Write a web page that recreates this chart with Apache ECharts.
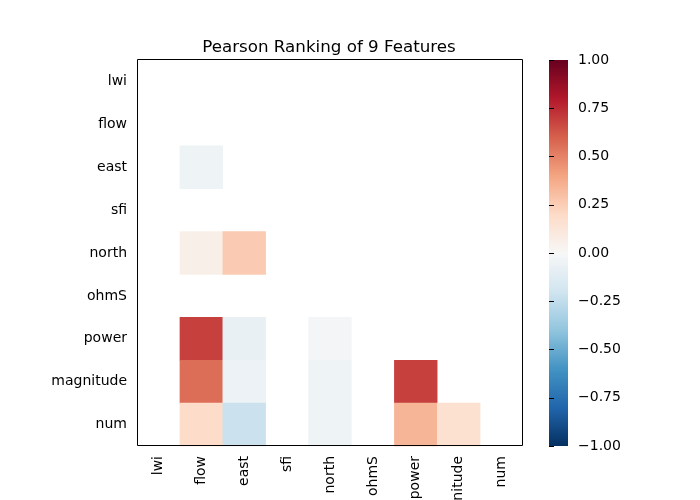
<!DOCTYPE html>
<html lang="en">
<head>
    <meta charset="UTF-8">
    <title>Pearson Ranking of 9 Features</title>
    <script type="text/javascript" src="https://cdn.jsdelivr.net/npm/echarts@6/dist/echarts.min.js"></script>
    <style>
        body { margin: 0; background: #fff; }
    </style>
</head>
<body>
    <div id="main" style="width: 700px;height:500px;"></div>
    <script type="text/javascript">
        const features = ['lwi', 'flow', 'east', 'sfi', 'north', 'ohmS', 'power', 'magnitude', 'num'];

        // lower triangle of the pearson matrix, null = masked / no variance
        const corr = [
            [null, null, null, null, null, null, null, null, null],
            [null, null, null, null, null, null, null, null, null],
            [null, -0.05, null, null, null, null, null, null, null],
            [null, null, null, null, null, null, null, null, null],
            [null, 0.06, 0.26, null, null, null, null, null, null],
            [null, null, null, null, null, null, null, null, null],
            [null, 0.69, -0.08, null, -0.02, null, null, null, null],
            [null, 0.56, -0.06, null, -0.05, null, 0.69, null, null],
            [null, 0.19, -0.22, null, -0.05, null, 0.34, 0.16, null]
        ];

        const colorbarTicks = [-1, -0.75, -0.5, -0.25, 0, 0.25, 0.5, 0.75, 1];

        // RdBu_r
        const rdbu = ['#053061', '#2166ac', '#4393c3', '#92c5de', '#d1e5f0', '#f7f7f7',
            '#fddbc7', '#f4a582', '#d6604d', '#b2182b', '#67001f'];

        const cells = [];
        corr.forEach(function (row, y) {
            row.forEach(function (v, x) {
                if (v !== null) cells.push([x, y, v]);
            });
        });

        // colorbar gradient, top = +1
        const stops = rdbu.slice().reverse().map(function (c, i) {
            return { offset: i / (rdbu.length - 1), color: c };
        });

        const font = 'DejaVu Sans';
        const myChart = echarts.init(document.getElementById('main'));
        const option = {
            animation: false,
            backgroundColor: '#fff',
            title: {
                text: 'Pearson Ranking of 9 Features',
                left: 324,
                textAlign: 'center',
                top: 34,
                textStyle: { fontFamily: font, fontSize: 16.7, fontWeight: 'normal', color: '#000' }
            },
            grid: [{
                left: 137, top: 60, width: 386, height: 386,
                outerBoundsMode: 'none',
                containLabel: false
            }, {
                left: 549, top: 60, width: 19, height: 386,
                outerBoundsMode: 'none',
                containLabel: false
            }],
            graphic: [{
                type: 'rect',
                shape: { x: 549, y: 60, width: 19, height: 386 },
                style: { fill: new echarts.graphic.LinearGradient(0, 0, 0, 1, stops) },
                silent: true
            }, {
                // axes frame (spines)
                type: 'rect',
                shape: { x: 137.5, y: 59.5, width: 385, height: 386 },
                style: { fill: null, stroke: '#000', lineWidth: 1 },
                silent: true,
                z: 100
            }],
            xAxis: [{
                type: 'category',
                data: features,
                gridIndex: 0,
                axisLine: { show: false },
                axisTick: { alignWithLabel: true, length: 5, lineStyle: { color: '#000' } },
                axisLabel: { rotate: 90, margin: 10, color: '#000', fontFamily: font, fontSize: 14, interval: 0 },
                splitLine: { show: false }
            }, {
                type: 'value', gridIndex: 1, show: false, min: 0, max: 1
            }],
            yAxis: [{
                type: 'category',
                data: features,
                inverse: true,
                gridIndex: 0,
                axisLine: { show: false },
                axisTick: { alignWithLabel: true, length: 5, lineStyle: { color: '#000' } },
                axisLabel: { margin: 10, color: '#000', fontFamily: font, fontSize: 14, interval: 0 },
                splitLine: { show: false }
            }, {
                type: 'value',
                gridIndex: 1,
                position: 'right',
                min: colorbarTicks[0],
                max: colorbarTicks[colorbarTicks.length - 1],
                interval: 0.25,
                axisLine: { show: false },
                axisTick: { show: true, length: 5, lineStyle: { color: '#000' } },
                splitLine: { show: false },
                axisLabel: {
                    margin: 10, color: '#000', fontFamily: font, fontSize: 14,
                    formatter: function (v) {
                        return (v < 0 ? '\u2212' : '') + Math.abs(v).toFixed(2);
                    }
                }
            }],
            visualMap: {
                type: 'continuous',
                show: false,
                seriesIndex: 0,
                min: -1,
                max: 1,
                inRange: { color: rdbu }
            },
            series: [{
                type: 'heatmap',
                xAxisIndex: 0,
                yAxisIndex: 0,
                data: cells,
                itemStyle: { borderWidth: 0 },
                emphasis: { disabled: true }
            }]
        };
        myChart.setOption(option);
    </script>
</body>
</html>
